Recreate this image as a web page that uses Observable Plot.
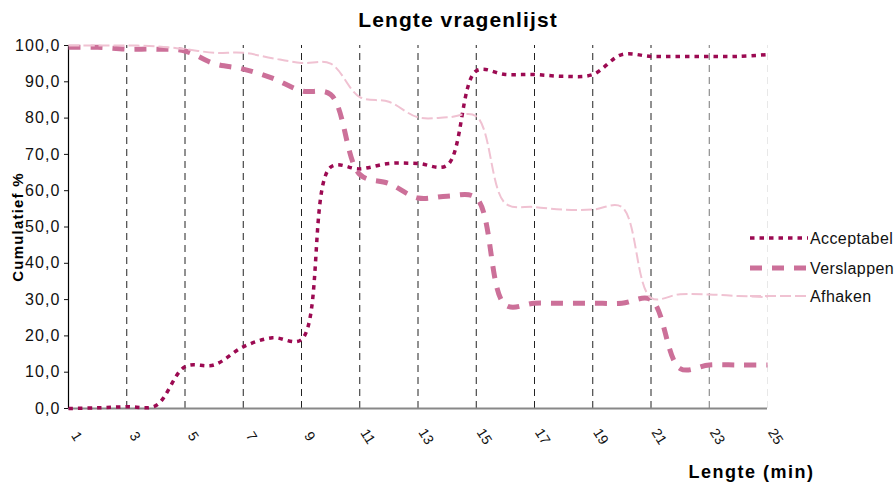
<!DOCTYPE html>
<html><head><meta charset="utf-8">
<script src="https://cdn.jsdelivr.net/npm/d3@7"></script>
<script src="https://cdn.jsdelivr.net/npm/@observablehq/plot@0.6"></script>
<style>
html,body{margin:0;padding:0;background:#fff;}
#wrap{position:relative;width:896px;height:489px;font-family:"Liberation Sans",Arial,sans-serif;}
#legend{position:absolute;left:745px;top:226px;}
</style></head><body><div id="wrap"></div>
<script>
const minutes = [1,2,3,4,5,6,7,8,9,10,11,12,13,14,15,16,17,18,19,20,21,22,23,24,25];
const xTickLabels = [1,3,5,7,9,11,13,15,17,19,21,23,25];
const gridX = [3,5,7,9,11,13,15,17,19,21,23,25];
const yTicks = [0,10,20,30,40,50,60,70,80,90,100];
const acceptabel = [0,0.2,0.5,0.8,11.5,12,17,19.5,19,66.5,66,67.5,67.5,67,93,92,92,91.5,92,97.5,97,97,97,97,97.5];
const verslappen = [99.5,99.5,99,99,98.5,95,93.5,91,87.5,86.5,64.5,62,58,58.5,58,28.5,29,29,29,29,30,11,12,12,12];
const afhaken = [100,100,100,99.8,99,98,98,96.5,95.2,95,85.8,84.5,80.2,80.2,80.5,56.5,55.5,54.8,54.8,55.5,30.5,31.5,31.4,31,30.7];
const seriesNames = ["Acceptabel","Verslappen","Afhaken"];
const seriesValues = [acceptabel, verslappen, afhaken];
const titleText = "Lengte vragenlijst";
const xTitleText = "Lengte (min)";
const yTitleText = "Cumulatief %";
const seriesStyle = {
  Acceptabel: {stroke:"#9c0a52", width:3.5, dash:"4.5,5"},
  Verslappen: {stroke:"#cc7099", width:5, dash:"12,10"},
  Afhaken:    {stroke:"#f0c2d2", width:2, dash:"11,4"}
};
const gridColor = {23:"#777777", 25:"#e8e8e8"};

const fmt = d => d.toFixed(1).replace(".", ",");

const lineMarks = seriesNames.map((name, i) => {
  const st = seriesStyle[name];
  return Plot.line(minutes.map((m, j) => ({minute: m, value: seriesValues[i][j]})), {
    x: "minute", y: "value", curve: "catmull-rom",
    stroke: st.stroke, strokeWidth: st.width, strokeDasharray: st.dash, strokeLinecap: "butt"
  });
});

const chart = Plot.plot({
  width: 896, height: 489,
  marginLeft: 68, marginRight: 129, marginTop: 45, marginBottom: 81,
  style: {fontFamily: '"Liberation Sans", Arial, sans-serif', fontSize: "15px", color: "#111", background: "#fff"},
  x: {domain: [1, 25], axis: null},
  y: {domain: [0, 100], axis: null},
  marks: [
    Plot.ruleX(gridX, {x: d => d, y1: 0, y2: 100, stroke: d => gridColor[d] || "#222", strokeDasharray: "7,5", strokeWidth: 1}),
    Plot.ruleY([0], {x1: 1, x2: 25, stroke: "#888", strokeWidth: 2}),
    Plot.ruleX([1], {y1: 0, y2: 100, stroke: "#000", strokeWidth: 1.2}),
    Plot.axisY(yTicks, {tickFormat: fmt, tickSize: 4, tickPadding: 4, fontSize: 16, label: null}),
    Plot.text(xTickLabels, {x: d => d, frameAnchor: "bottom", lineAnchor: "middle", textAnchor: "middle", text: d => String(d), rotate: 58, dx: 8, dy: 28, fontSize: 14, fill: "#111"}),
    ...lineMarks,
    Plot.text([titleText], {frameAnchor: "top", lineAnchor: "middle", textAnchor: "middle", dx: 40, dy: -25, fontSize: 21, fontWeight: "bold", fill: "#000"}),
    Plot.text([xTitleText], {frameAnchor: "bottom-right", lineAnchor: "middle", textAnchor: "middle", dx: -16, dy: 64, fontSize: 18, fontWeight: "bold", fill: "#000"}),
    Plot.text([yTitleText], {frameAnchor: "left", lineAnchor: "middle", textAnchor: "middle", rotate: -90, dx: -50, fontSize: 15, fontWeight: "bold", fill: "#000"})
  ]
});

chart.querySelectorAll('[aria-label="y-axis tick label"] text').forEach(t => t.style.letterSpacing = "1.1px");
const spacing = {[titleText]: "1.1px", [xTitleText]: "1.5px", [yTitleText]: "1.2px"};
chart.querySelectorAll("text").forEach(t => {
  const s = spacing[t.textContent];
  if (s) t.style.letterSpacing = s;
});

const wrap = document.getElementById("wrap");
wrap.appendChild(chart);

// legend
const ns = "http://www.w3.org/2000/svg";
const leg = document.createElementNS(ns, "svg");
leg.setAttribute("id", "legend");
leg.setAttribute("width", 151); leg.setAttribute("height", 90);
const rowY = [12, 42, 70];
seriesNames.forEach((name, i) => {
  const st = seriesStyle[name];
  const l = document.createElementNS(ns, "line");
  l.setAttribute("x1", 5); l.setAttribute("x2", 63);
  l.setAttribute("y1", rowY[i]); l.setAttribute("y2", rowY[i]);
  l.setAttribute("stroke", st.stroke); l.setAttribute("stroke-width", st.width);
  l.setAttribute("stroke-dasharray", st.dash);
  leg.appendChild(l);
  const t = document.createElementNS(ns, "text");
  t.setAttribute("x", 65); t.setAttribute("y", rowY[i]);
  t.setAttribute("dy", "0.35em");
  t.setAttribute("font-size", 16);
  t.setAttribute("font-family", '"Liberation Sans", Arial, sans-serif');
  t.setAttribute("fill", "#111");
  t.style.letterSpacing = "0.4px";
  t.textContent = name;
  leg.appendChild(t);
});
wrap.appendChild(leg);
</script></body></html>
